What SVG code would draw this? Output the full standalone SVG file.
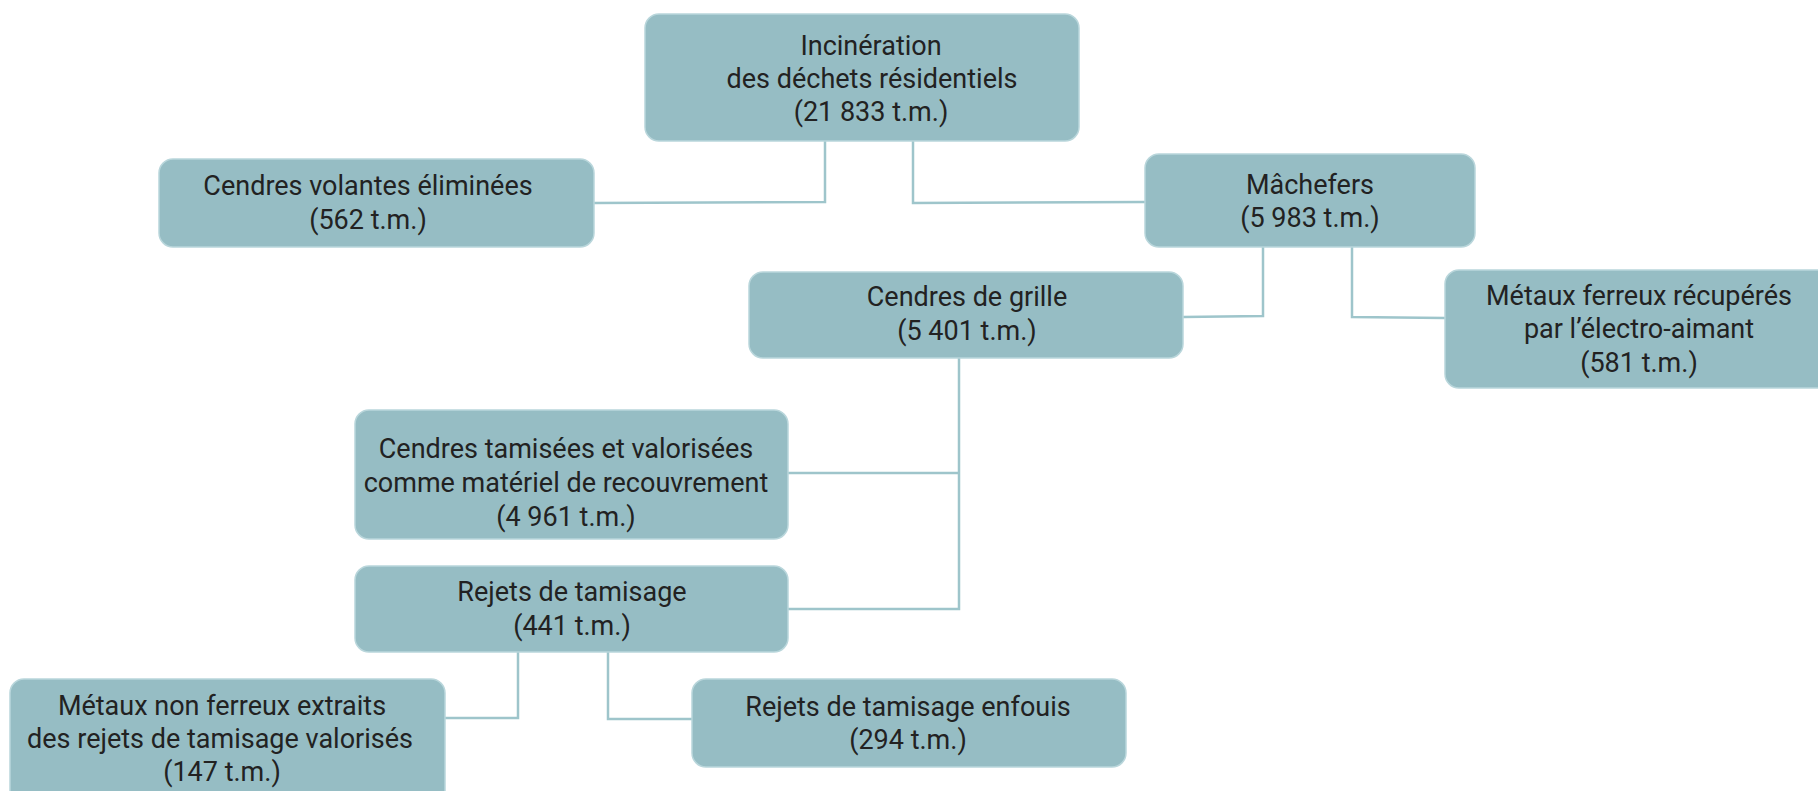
<svg xmlns="http://www.w3.org/2000/svg" width="1818" height="791" viewBox="0 0 1818 791">
<style>
.box{fill:#96bdc4;stroke:#b9d6db;stroke-width:1.5}
.t{font-family:Roboto,"Liberation Sans",sans-serif;font-size:27px;fill:#222;text-anchor:middle}
.c{fill:none;stroke:#9ec5cb;stroke-width:2.5}
</style>
<rect width="1818" height="791" fill="#fff"/>
<g id="connectors">
<polyline class="c" points="825,140 825,202 594,203"/>
<polyline class="c" points="913,140 913,203 1145,202"/>
<polyline class="c" points="1263,247 1263,316 1183,317"/>
<polyline class="c" points="1352,247 1352,317 1445,318"/>
<polyline class="c" points="959,358 959,609 788,609"/>
<polyline class="c" points="959,473 788,473"/>
<polyline class="c" points="518,652 518,718 444,718"/>
<polyline class="c" points="608,652 608,719 692,719"/>
</g>
<g id="incineration">
<rect class="box" x="645" y="14" width="434" height="127" rx="14"/>
<text class="t" x="871" y="55">Incinération</text>
<text class="t" x="872" y="88">des déchets résidentiels</text>
<text class="t" x="871" y="121">(21 833 t.m.)</text>
</g>
<g id="cendres-volantes">
<rect class="box" x="159" y="159" width="435" height="88" rx="14"/>
<text class="t" x="368" y="195">Cendres volantes éliminées</text>
<text class="t" x="368" y="229">(562 t.m.)</text>
</g>
<g id="machefers">
<rect class="box" x="1145" y="154" width="330" height="93" rx="14"/>
<text class="t" x="1310" y="194">Mâchefers</text>
<text class="t" x="1310" y="227">(5 983 t.m.)</text>
</g>
<g id="cendres-grille">
<rect class="box" x="749" y="272" width="434" height="86" rx="14"/>
<text class="t" x="967" y="306">Cendres de grille</text>
<text class="t" x="967" y="340">(5 401 t.m.)</text>
</g>
<g id="metaux-ferreux">
<rect class="box" x="1445" y="270" width="403" height="118" rx="14"/>
<text class="t" x="1639" y="305">Métaux ferreux récupérés</text>
<text class="t" x="1639" y="338">par l’électro-aimant</text>
<text class="t" x="1639" y="372">(581 t.m.)</text>
</g>
<g id="cendres-tamisees">
<rect class="box" x="355" y="410" width="433" height="129" rx="14"/>
<text class="t" x="566" y="458">Cendres tamisées et valorisées</text>
<text class="t" x="566" y="492">comme matériel de recouvrement</text>
<text class="t" x="566" y="526">(4 961 t.m.)</text>
</g>
<g id="rejets-tamisage">
<rect class="box" x="355" y="566" width="433" height="86" rx="14"/>
<text class="t" x="572" y="601">Rejets de tamisage</text>
<text class="t" x="572" y="635">(441 t.m.)</text>
</g>
<g id="metaux-non-ferreux">
<rect class="box" x="10" y="679" width="435" height="130" rx="14"/>
<text class="t" x="222" y="715">Métaux non ferreux extraits</text>
<text class="t" x="220" y="748">des rejets de tamisage valorisés</text>
<text class="t" x="222" y="781">(147 t.m.)</text>
</g>
<g id="rejets-enfouis">
<rect class="box" x="692" y="679" width="434" height="88" rx="14"/>
<text class="t" x="908" y="716">Rejets de tamisage enfouis</text>
<text class="t" x="908" y="749">(294 t.m.)</text>
</g>
</svg>
